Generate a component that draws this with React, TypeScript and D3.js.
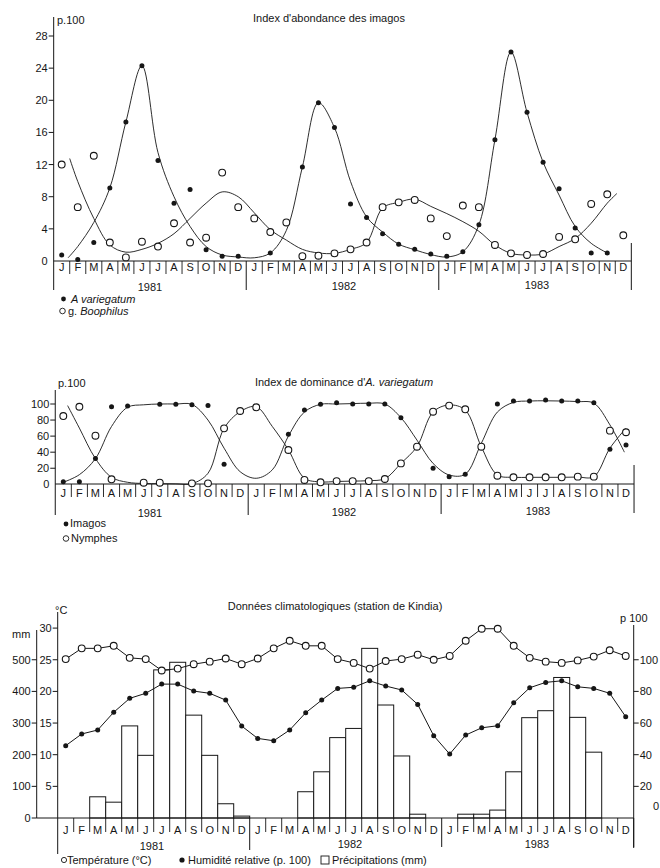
import React from 'react';
import * as d3 from 'd3';

const FONT = "'Liberation Sans', Arial, Helvetica, sans-serif";
const INK = '#161616';

const monthLetters = ['J', 'F', 'M', 'A', 'M', 'J', 'J', 'A', 'S', 'O', 'N', 'D'];
const months = [...monthLetters, ...monthLetters, ...monthLetters];
const years = ['1981', '1982', '1983'];

// Index d'abondance des imagos (p.100)
const abondanceTicks = [0, 4, 8, 12, 16, 20, 24, 28];
const variegatumPts = [0.75, 0.2, 2.3, 9.1, 17.3, 24.3, 12.5, 7.2, 8.9, 1.4, 0.6, 0.6,
  null, 1.0, null, 11.7, 19.7, 16.6, 7.1, 5.4, 3.4, 2.1, 1.45, 0.87,
  0.6, 1.15, 4.5, 15.1, 26.0, 18.5, 12.3, 9.0, 4.1, 1.0, 1.0, null];
const boophilusPts = [12.0, 6.7, 13.1, 2.3, 0.45, 2.4, 1.8, 4.7, 2.3, 2.9, 11.0, 6.7,
  5.3, 3.6, 4.8, 0.6, 0.66, 0.95, 1.45, 2.3, 6.7, 7.3, 7.6, 5.3,
  3.1, 6.9, 6.7, 2.0, 0.95, 0.75, 0.87, 3.0, 2.7, 7.1, 8.3, 3.2];
// fitted curves: [month index, value]
const variegatumFit = [[0.4, 0.4], [1, 1.8], [2, 4.8], [3, 9.1], [4, 17.3], [5, 24.3], [6, 13.5], [7, 8],
  [8, 4.3], [9, 1.8], [10, 0.75], [11, 0.5], [12, 0.4], [13, 1.0], [14, 3.8], [15, 11.7], [16, 19.7],
  [17, 16.6], [18, 9.9], [19, 5.5], [20, 3.6], [21, 2.1], [22, 1.4], [23, 0.8], [24, 0.5], [25, 1.15],
  [26, 4.5], [27, 15.1], [28, 26], [29, 18.5], [30, 12.3], [31, 8.2], [32, 4.3], [33, 2.2], [34, 1.0]];
const boophilusFit = [[0.5, 12.75], [1, 9.9], [2, 5.3], [3, 2.0], [4, 1.1], [5, 1.45], [6, 2.2], [7, 3.4],
  [8, 5.3], [9, 7.2], [10, 8.6], [11, 8.0], [12, 6.0], [13, 3.9], [14, 2.6], [15, 1.45], [16, 1.0],
  [17, 0.95], [18, 1.45], [19, 2.3], [20, 6.6], [21, 7.3], [22, 7.7], [23, 6.8], [24, 5.9], [25, 4.9],
  [26, 3.7], [27, 2.0], [28, 0.95], [29, 0.75], [30, 0.87], [31, 1.8], [32, 2.8], [33, 4.7], [34, 7.2], [34.6, 8.4]];

// Index de dominance d'A. variegatum (p.100)
const dominanceTicks = [0, 20, 40, 60, 80, 100];
const imagosPts = [3.3, 3.3, 32, 96.6, 97.5, null, 99.7, 99.7, 99, 98, 24.9, null,
  null, null, 62.3, 92.5, 99.6, 101.6, 100, 100, 100, 83, null, 20,
  9.5, 12.5, null, 100, 103.7, 103.7, 105, 103.7, 103.7, 101.6, 43.6, 49];
const nymphesPts = [85, 96.6, 60.5, 6.2, null, 2, 2, null, 1.2, 1.2, 69.7, 91.3,
  95.9, null, 42.7, 5.4, 2.5, 4, 4, 4, 6.6, 26, 46.8, 90.4,
  98, 93.4, 46.8, 10.7, 8.7, 8.7, 8.7, 8.7, 9.5, 9.5, 66.8, 64.8];
const imagosFit = [[0, 2.5], [1, 12], [2, 32], [3, 72], [4, 96], [5, 99], [6, 100], [7, 100], [8, 99.5],
  [9, 80], [10, 45], [11, 15.7], [12, 7.5], [13, 18], [14, 60], [15, 90], [16, 99.6], [17, 100],
  [18, 100.5], [19, 101], [20, 100], [21, 83], [22, 55], [23, 26], [24, 11.6], [25, 12.5], [26, 51],
  [27, 90], [28, 102], [29, 103.7], [30, 104], [31, 103.7], [32, 103], [33, 101], [34, 74], [34.9, 40]];
const nymphesFit = [[0.27, 98], [1, 70], [2, 32], [3, 8.7], [4, 2.5], [5, 1], [6, 0.8], [7, 0.5], [8, 0.8],
  [9, 13.7], [10, 69.7], [11, 90.4], [12, 96.6], [13, 72], [14, 43], [15, 7.5], [16, 3], [17, 3.5],
  [18, 4], [19, 4.5], [20, 7], [21, 26], [22, 47], [23, 90], [24, 98.8], [25, 92.5], [26, 46.8],
  [27, 11.6], [28, 8.7], [29, 8.7], [30, 8.7], [31, 8.7], [32, 9], [33, 9.5], [34, 45], [35, 70]];

// Données climatologiques (station de Kindia)
const mmTicks = [0, 100, 200, 300, 400, 500];
const degTicks = [5, 10, 15, 20, 25, 30];
const pctTicks = [20, 40, 60, 80, 100];
const precipitations = [0, 0, 67, 50, 291, 198, 468, 492, 325, 198, 45, 6,
  0, 0, 0, 83, 146, 254, 283, 536, 357, 196, 12, 0,
  0, 12, 12, 25, 146, 317, 339, 444, 318, 208, 0, 0];
const temperature = [25.1, 26.8, 26.8, 27.2, 25.3, 25.1, 23.3, 23.6, 24.3, 24.7, 25.2, 24.3,
  25.2, 26.8, 28.0, 27.2, 27.2, 25.1, 24.5, 23.6, 24.8, 25.1, 25.8, 25.0,
  25.6, 28.0, 29.9, 29.9, 27.2, 25.3, 24.7, 24.5, 24.9, 25.5, 26.5, 25.6];
const humidite = [45.7, 53.1, 55.6, 66.8, 75.6, 78.8, 84.6, 84.6, 80.2, 78.8, 74.5, 58.1,
  50.3, 48.8, 55.6, 66.5, 74.5, 81.9, 82.6, 86.7, 83.4, 80.9, 71.8, 52.0,
  40.4, 52.4, 57.0, 58.3, 72.8, 82.3, 85.7, 86.7, 82.9, 81.9, 78.8, 64.0];

type Sc = d3.ScaleLinear<number, number>;

function fitPath(x: Sc, y: Sc, pts: number[][]) {
  return d3.line<number[]>()
    .x(d => x(d[0]))
    .y(d => y(d[1]))
    .curve(d3.curveCatmullRom.alpha(0.5))(pts) || '';
}

function Dots({ x, y, vals, open }: { x: Sc; y: Sc; vals: (number | null)[]; open?: boolean }) {
  return (
    <g>
      {vals.map((v, i) => v == null ? null : open
        ? <circle key={i} cx={x(i)} cy={y(v)} r={3.4} fill="#fff" stroke={INK} strokeWidth={1.1} />
        : <circle key={i} cx={x(i)} cy={y(v)} r={2.5} fill={INK} />)}
    </g>
  );
}

function MonthRow({ x, base, sep, textY, yearY, yearX, yearSep, rightTop }:
  { x: Sc; base: number; sep: number; textY: number; yearY: number[]; yearX: number[]; yearSep: number[]; rightTop: number }) {
  return (
    <g>
      <line x1={x(-0.5)} x2={x(35.5)} y1={base} y2={base} stroke={INK} />
      {months.map((m, i) => i > 0 && i % 12 !== 0
        ? <line key={'s' + i} x1={x(i - 0.5)} x2={x(i - 0.5)} y1={base} y2={base + sep} stroke={INK} strokeWidth={0.9} />
        : null)}
      {months.map((m, i) => (
        <text key={'m' + i} x={x(i)} y={textY} textAnchor="middle" fontSize={11}>{m}</text>
      ))}
      <line x1={x(11.5)} x2={x(11.5)} y1={base} y2={yearSep[0]} stroke={INK} />
      <line x1={x(23.5)} x2={x(23.5)} y1={base} y2={yearSep[1]} stroke={INK} />
      <line x1={x(35.5)} x2={x(35.5)} y1={rightTop} y2={yearSep[2]} stroke={INK} />
      {years.map((yr, i) => (
        <text key={yr} x={yearX[i]} y={yearY[i]} textAnchor="middle" fontSize={11}>{yr}</text>
      ))}
    </g>
  );
}

export default function App() {
  // --- top chart
  const xA = d3.scaleLinear().domain([0, 35]).range([61.7, 623.3]);
  const yA = d3.scaleLinear().domain([0, 28]).range([261, 36]);
  const axA = xA(-0.5);

  // --- middle chart
  const xB = d3.scaleLinear().domain([0, 35]).range([63.3, 626]);
  const yB = d3.scaleLinear().domain([0, 100]).range([484.3, 404]);
  const axB = xB(-0.5);

  // --- bottom chart
  const xC = d3.scaleLinear().domain([0, 35]).range([65.7, 625.7]);
  const yMm = d3.scaleLinear().domain([0, 600]).range([818, 628.1]);
  const yDeg = d3.scaleLinear().domain([0, 30]).range([818, 628.1]);
  const yPct = d3.scaleLinear().domain([0, 120]).range([818, 628.1]);
  const axC = xC(-0.5);
  const mmAxisX = 36.7;
  const rightAx = xC(35.5);
  const straight = (y: Sc, vals: number[]) =>
    d3.line<number>().x((d, i) => xC(i)).y(d => y(d))(vals) || '';

  return (
    <svg width={660} height={868} viewBox="0 0 660 868"
      style={{ position: 'absolute', left: 0, top: 0, display: 'block', background: '#fff' }}
      fontFamily={FONT} fill={INK}>
      <rect width={660} height={868} fill="#fff" />

      {/* ===== Index d'abondance des imagos ===== */}
      <text x={329} y={22} textAnchor="middle" fontSize={11}>Index d'abondance des imagos</text>
      <text x={57} y={24} fontSize={11}>p.100</text>
      <line x1={axA} x2={axA} y1={17} y2={290} stroke={INK} />
      {abondanceTicks.map(t => (
        <g key={t}>
          {t > 0 && <line x1={axA - 5} x2={axA} y1={yA(t)} y2={yA(t)} stroke={INK} />}
          <text x={axA - 6} y={yA(t) + 4} textAnchor="end" fontSize={11}>{t}</text>
        </g>
      ))}
      <MonthRow x={xA} base={261} sep={13} textY={271} yearY={[291, 290, 289]} yearX={[150, 344, 537]}
        yearSep={[290, 290, 290]} rightTop={243} />
      <path d={fitPath(xA, yA, variegatumFit)} fill="none" stroke={INK} strokeWidth={0.9} />
      <path d={fitPath(xA, yA, boophilusFit)} fill="none" stroke={INK} strokeWidth={0.9} />
      <Dots x={xA} y={yA} vals={variegatumPts} />
      <Dots x={xA} y={yA} vals={boophilusPts} open />
      <circle cx={63.5} cy={299} r={2.4} fill={INK} />
      <text x={71} y={303} fontSize={11} fontStyle="italic">A  variegatum</text>
      <circle cx={62.5} cy={311} r={2.8} fill="#fff" stroke={INK} strokeWidth={0.9} />
      <text x={68} y={315} fontSize={11}>g. <tspan fontStyle="italic">Boophilus</tspan></text>

      {/* ===== Index de dominance d'A. variegatum ===== */}
      <text x={344} y={386} textAnchor="middle" fontSize={11}>
        Index de dominance d'<tspan fontStyle="italic">A. variegatum</tspan>
      </text>
      <text x={58} y={387} fontSize={11}>p.100</text>
      <line x1={axB} x2={axB} y1={390} y2={515} stroke={INK} />
      {dominanceTicks.map(t => (
        <g key={t}>
          {t > 0 && <line x1={axB - 5} x2={axB} y1={yB(t)} y2={yB(t)} stroke={INK} />}
          <text x={axB - 6} y={yB(t) + 4} textAnchor="end" fontSize={11}>{t}</text>
        </g>
      ))}
      <MonthRow x={xB} base={484} sep={13} textY={497} yearY={[517, 516, 515]} yearX={[150, 344, 538]}
        yearSep={[515, 514, 513]} rightTop={465} />
      <path d={fitPath(xB, yB, imagosFit)} fill="none" stroke={INK} strokeWidth={0.9} />
      <path d={fitPath(xB, yB, nymphesFit)} fill="none" stroke={INK} strokeWidth={0.9} />
      <Dots x={xB} y={yB} vals={imagosPts} />
      <Dots x={xB} y={yB} vals={nymphesPts} open />
      <circle cx={66} cy={524} r={2.4} fill={INK} />
      <text x={70} y={527} fontSize={11}>Imagos</text>
      <circle cx={66} cy={538.5} r={2.8} fill="#fff" stroke={INK} strokeWidth={0.9} />
      <text x={71} y={542} fontSize={11}>Nymphes</text>

      {/* ===== Données climatologiques ===== */}
      <text x={335} y={610} textAnchor="middle" fontSize={11}>Données climatologiques (station de Kindia)</text>
      <text x={55} y={614} fontSize={11}>°C</text>
      <text x={12} y={638} fontSize={11}>mm</text>
      <text x={620} y={622} fontSize={11}>p 100</text>

      {/* bars */}
      {precipitations.map((v, i) => v > 0 && (
        <rect key={i} x={xC(i - 0.5)} y={yMm(v)} width={xC(i + 0.5) - xC(i - 0.5)} height={yMm(0) - yMm(v)}
          fill="#fff" stroke={INK} strokeWidth={1} />
      ))}

      {/* axes */}
      <line x1={mmAxisX} x2={mmAxisX} y1={630} y2={818} stroke={INK} />
      {mmTicks.map(t => (
        <g key={t}>
          <line x1={mmAxisX - 5} x2={mmAxisX} y1={yMm(t)} y2={yMm(t)} stroke={INK} />
          <text x={mmAxisX - 6} y={yMm(t) + 4} textAnchor="end" fontSize={11}>{t}</text>
        </g>
      ))}
      <line x1={mmAxisX} x2={axC} y1={818} y2={818} stroke={INK} />
      <line x1={axC} x2={axC} y1={612} y2={854} stroke={INK} />
      {degTicks.map(t => (
        <g key={t}>
          <line x1={axC - 5} x2={axC} y1={yDeg(t)} y2={yDeg(t)} stroke={INK} />
          <text x={axC - 6} y={yDeg(t) + 4} textAnchor="end" fontSize={11}>{t}</text>
        </g>
      ))}
      <line x1={rightAx} x2={rightAx} y1={625} y2={848} stroke={INK} />
      {pctTicks.map(t => (
        <g key={t}>
          <line x1={rightAx} x2={rightAx + 5} y1={yPct(t)} y2={yPct(t)} stroke={INK} />
          <text x={rightAx + 6} y={yPct(t) + 4} fontSize={11}>{t}</text>
        </g>
      ))}
      <text x={653} y={810} fontSize={11}>0</text>
      <MonthRow x={xC} base={818} sep={14} textY={834} yearY={[850, 848, 848]} yearX={[152, 350, 537]}
        yearSep={[850, 847, 847]} rightTop={818} />

      {/* series */}
      <path d={straight(yPct, humidite)} fill="none" stroke={INK} strokeWidth={1} />
      <path d={straight(yDeg, temperature)} fill="none" stroke={INK} strokeWidth={1} />
      <Dots x={xC} y={yPct} vals={humidite} />
      <Dots x={xC} y={yDeg} vals={temperature} open />

      {/* legend */}
      <circle cx={64} cy={860} r={2.6} fill="#fff" stroke={INK} strokeWidth={0.9} />
      <text x={67} y={864} fontSize={11}>Température (°C)</text>
      <circle cx={182} cy={860} r={2.6} fill={INK} />
      <text x={188} y={864} fontSize={11}>Humidité relative (p. 100)</text>
      <rect x={321} y={856} width={8} height={8} fill="#fff" stroke={INK} strokeWidth={0.9} />
      <text x={332} y={864} fontSize={11}>Précipitations (mm)</text>
    </svg>
  );
}
